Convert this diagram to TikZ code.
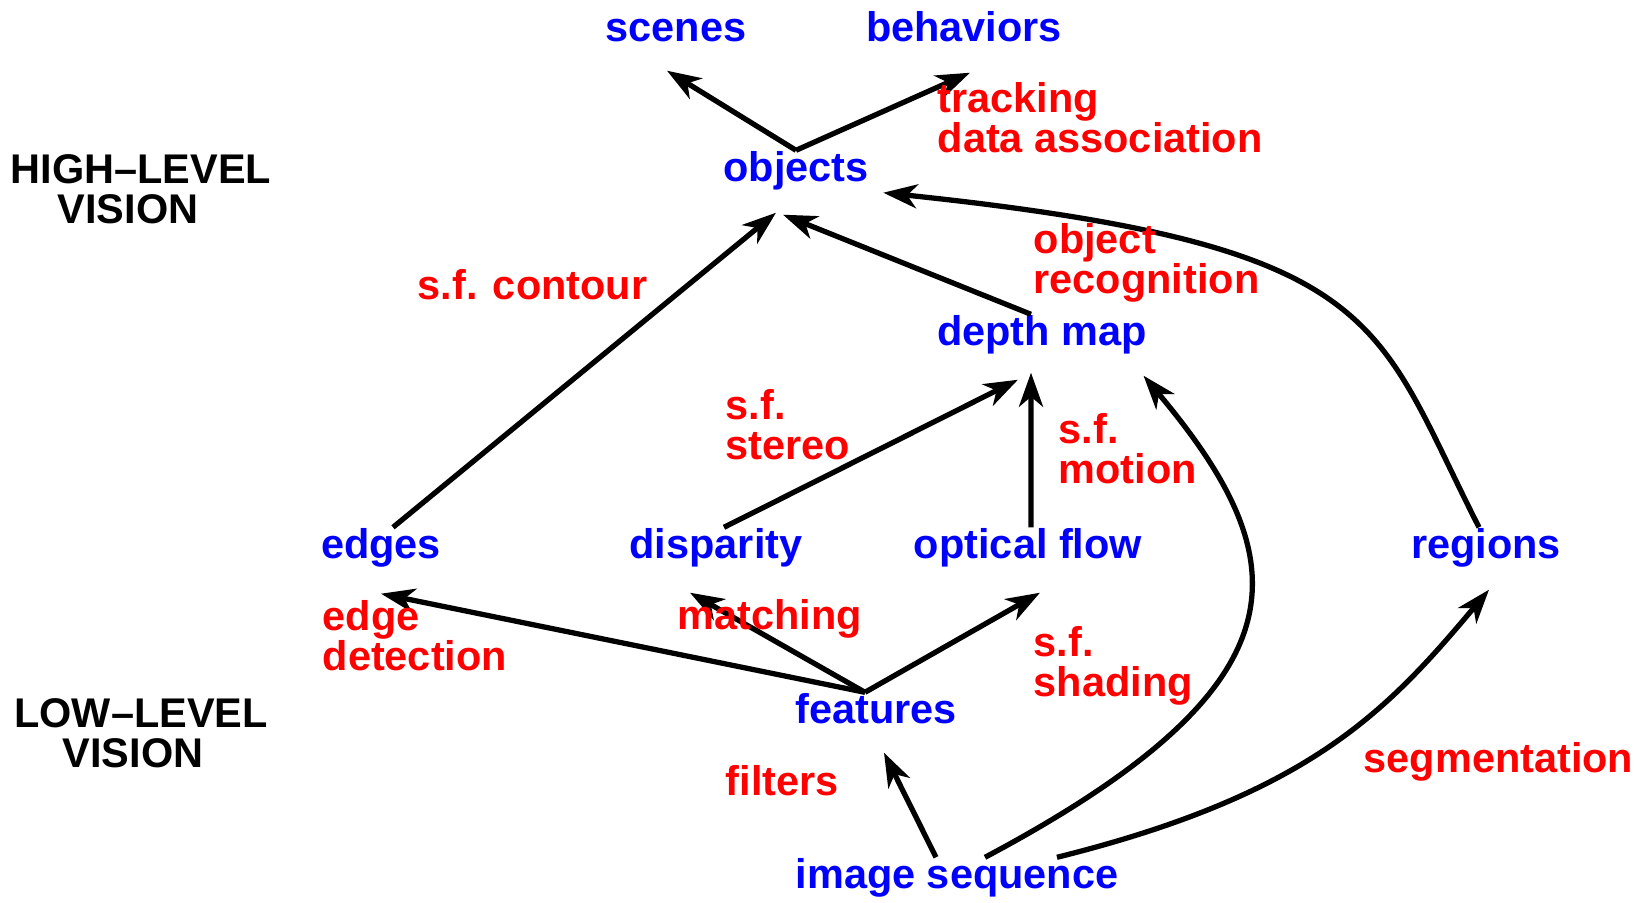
\documentclass[tikz,border=0pt]{standalone}
\usepackage{fontspec}
\setmainfont{Liberation Sans}
\usetikzlibrary{arrows.meta}

\begin{document}
\begin{tikzpicture}[
    font=\fontsize{11.8}{11.4}\selectfont\bfseries,
    stage/.style={blue, anchor=base, inner sep=0pt, text height=0.30cm, text depth=0.08cm},
    process/.style={red, inner sep=0pt, align=left, anchor=north west},
    heading/.style={black, inner sep=0pt, align=center, anchor=north},
    connect/.style={line width=1.5pt, -{Stealth[length=3.4mm, width=2.4mm, inset=1mm]}}
  ]
  \useasboundingbox (0,0) rectangle (16.36,9.02);

  \node[heading] (high) at (1.41,7.48) {HIGH–LEVEL\\VISION\hspace*{2.6mm}};
  \node[heading] (low) at (1.41,2.04) {LOW–LEVEL\\VISION\hspace*{1.6mm}};

  \node[stage] (scenes) at (6.76,8.61) {scenes};
  \node[stage] (behaviors) at (9.64,8.61) {behaviors};
  \node[stage] (objects) at (7.96,7.21) {objects};
  \node[stage] (depth) at (10.42,5.57) {depth map};
  \node[stage] (edges) at (3.81,3.44) {edges};
  \node[stage] (disparity) at (7.16,3.44) {disparity};
  \node[stage] (optical) at (10.28,3.44) {optical flow};
  \node[stage] (regions) at (14.86,3.44) {regions};
  \node[stage] (features) at (8.76,1.79) {features};
  \node[stage] (image) at (9.57,0.14) {image sequence};

  \draw[connect] (objects.north) -- ([shift={(-0.09,-0.21)}]scenes.south);
  \draw[connect] (objects.north) -- ([shift={(0.06,-0.23)}]behaviors.south);
  \draw[connect] ([xshift=1.2mm]edges.north) -- ([shift={(-0.20,-0.23)}]objects.south);
  \draw[connect] ([xshift=-1.1mm]depth.north) -- ([shift={(-0.13,-0.25)}]objects.south);
  \draw[connect] ([xshift=-0.7mm]regions.north)
    to[out=117, in=-6, out distance=2.34cm, in distance=5.07cm]
    ([shift={(0.14,-0.03)}]objects.south east);
  \draw[connect] ([xshift=0.8mm]disparity.north) -- ([shift={(-0.24,-0.26)}]depth.south);
  \draw[connect] ([xshift=0.3mm]optical.north) -- ([shift={(-0.11,-0.19)}]depth.south);
  \draw[connect] ([xshift=2.8mm]image.north)
    to[out=28, in=-50, out distance=3.73cm, in distance=2.40cm]
    ([shift={(-0.04,-0.22)}]depth.south east);
  \draw[connect] ([xshift=-1.1mm]features.north) -- ([yshift=-2.7mm]edges.south);
  \draw[connect] ([xshift=-1.1mm]features.north) -- ([shift={(-0.26,-0.26)}]disparity.south);
  \draw[connect] ([xshift=-1.1mm]features.north) -- ([shift={(0.12,-0.26)}]optical.south);
  \draw[connect] ([xshift=-2.1mm]image.north) -- ([shift={(0.08,-0.21)}]features.south);
  \draw[connect] ([xshift=10mm]image.north)
    to[out=14, in=-130, out distance=2.6cm, in distance=1.6cm]
    ([shift={(0.03,-0.23)}]regions.south);

  \node[process] (tracking) at (9.37,8.20) {tracking\\data association};
  \node[process] (recognition) at (10.33,6.79) {object\\recognition};
  \node[process, anchor=base west] (contour) at (4.17,6.03) {s.f. contour};
  \node[process] (stereo) at (7.25,5.13) {s.f.\\stereo};
  \node[process] (motion) at (10.58,4.89) {s.f.\\motion};
  \node[process] (detection) at (3.22,3.02) {edge\\detection};
  \node[process, anchor=base] (matching) at (7.70,2.73) {matching};
  \node[process] (shading) at (10.33,2.76) {s.f.\\shading};
  \node[process, anchor=base west] (filters) at (7.25,1.07) {filters};
  \node[process, anchor=base west] (segmentation) at (13.63,1.30) {segmentation};
\end{tikzpicture}
\end{document}
